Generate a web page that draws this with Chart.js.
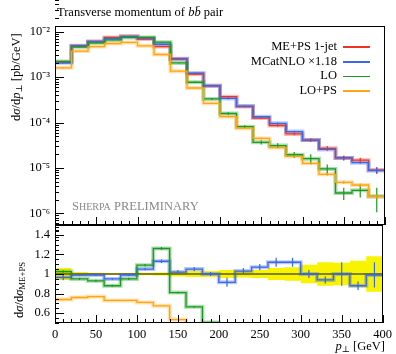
<!DOCTYPE html>
<html>
<head>
<meta charset="utf-8">
<script src="https://cdn.jsdelivr.net/npm/chart.js@4.4.1/dist/chart.umd.min.js"></script>
<style>
  body { margin: 0; background: #fff; width: 396px; height: 354px; position: relative; overflow: hidden;
         font-family: "Liberation Serif", "DejaVu Serif", serif; color: #000; }
  canvas { position: absolute; left: 0; }
  .txt { position: absolute; white-space: nowrap; }
  .rot { position: absolute; white-space: nowrap; transform-origin: left top; transform: rotate(-90deg); }
  .leg { position: absolute; right: 26px; font-size: 12.5px; line-height: 14.7px; text-align: right; }
  .leg span { display: inline-block; width: 27px; height: 1.6px; margin-left: 6px; vertical-align: middle; }
  sub { font-size: 70%; vertical-align: -2px; line-height: 0; }
</style>
</head>
<body>
<canvas id="mainChart" width="396" height="240" style="top:0"></canvas>
<canvas id="ratioChart" width="396" height="144" style="top:210px"></canvas>

<div class="txt" style="left:57px;top:5px;font-size:12.5px">Transverse momentum of <i>b</i><i>b&#772;</i> pair</div>

<div class="leg" style="top:39px">
  <div>ME+PS 1-jet<span style="background:#ee3322"></span></div>
  <div>MCatNLO ×1.18<span style="background:#3a66e8"></span></div>
  <div>LO<span style="background:#1a9a22"></span></div>
  <div>LO+PS<span style="background:#ffa514"></span></div>
</div>

<div class="txt" style="left:72px;top:199px;font-size:12.5px;color:#888">S<span style="font-size:80%">HERPA</span> PRELIMINARY</div>

<div class="rot" style="left:9px;top:121px;font-size:12.5px">d<i>σ</i>/d<i>p</i><sub>⊥</sub> [pb/GeV]</div>
<div class="rot" style="left:12px;top:318px;font-size:12.5px">d<i>σ</i>/d<i>σ</i><sub>ME+PS</sub></div>

<div class="txt" style="right:11px;top:339px;font-size:12.5px"><i>p</i><sub>⊥</sub> [GeV]</div>

<script>
// bin edges, 20 GeV wide
const edges = [0, 20, 40, 60, 80, 100, 120, 140, 160, 180, 200, 220, 240, 260, 280, 300, 320, 340, 360, 380, 400];

// main panel: dsigma/dpT [pb/GeV]
const mePs    = [2.15e-3, 4.9e-3, 6.1e-3, 7.5e-3, 7.9e-3, 6.9e-3, 4.7e-3, 2.5e-3, 1.17e-3, 6.45e-4, 3.7e-4, 2.24e-4, 1.25e-4, 8.6e-5, 5.6e-5, 4.1e-5, 2.7e-5, 1.66e-5, 1.48e-5, 8.9e-6];
const mcAtNlo = [2.07e-3, 4.85e-3, 6.05e-3, 7.1e-3, 7.8e-3, 7.25e-3, 5.3e-3, 2.55e-3, 1.23e-3, 6.45e-4, 3.4e-4, 2.3e-4, 1.34e-4, 9.6e-5, 6.3e-5, 4.1e-5, 2.55e-5, 1.66e-5, 1.3e-5, 8.8e-6];
const lo      = [2.2e-3, 4.65e-3, 5.7e-3, 6.6e-3, 7.5e-3, 7.5e-3, 5.9e-3, 2.05e-3, 7.7e-4, 3.3e-4, 1.58e-4, 8.1e-5, 3.65e-5, 3.1e-5, 1.95e-5, 1.6e-5, 9.5e-6, 2.8e-6, 3.2e-6, 2.35e-6];
const loPs    = [1.6e-3, 3.75e-3, 4.7e-3, 5.5e-3, 5.8e-3, 4.9e-3, 3.15e-3, 1.35e-3, 5.75e-4, 2.65e-4, 1.35e-4, 7.5e-5, 4.45e-5, 2.8e-5, 1.8e-5, 1.26e-5, 7.2e-6, 4.8e-6, 4.2e-6, 2.35e-6];

// relative uncertainties
const mePsErr    = [0.06, 0.02, 0.012, 0.01, 0.01, 0.012, 0.015, 0.025, 0.03, 0.03, 0.04, 0.035, 0.04, 0.06, 0.07, 0.095, 0.12, 0.115, 0.135, 0.18];
const mcAtNloErr = [0.03, 0.01, 0.01, 0.01, 0.01, 0.01, 0.015, 0.02, 0.02, 0.02, 0.05, 0.03, 0.03, 0.04, 0.04, 0.04, 0.04, 0.12, 0.05, 0.13];
const loErr      = [0.03, 0.02, 0.02, 0.02, 0.02, 0.02, 0.02, 0.03, 0.04, 0.05, 0.06, 0.08, 0.1, 0.12, 0.15, 0.25, 0.25, 0.3, 0.3, 0.55];
const loPsErr    = [0.03, 0.01, 0.01, 0.01, 0.01, 0.01, 0.015, 0.02, 0.03, 0.03, 0.04, 0.04, 0.05, 0.05, 0.06, 0.06, 0.07, 0.08, 0.08, 0.1];

// ratio panel: x / ME+PS
const ratioMcAtNlo = [0.965, 0.99, 0.99, 0.95, 0.99, 1.05, 1.13, 1.02, 1.05, 1.0, 0.915, 1.03, 1.07, 1.12, 1.12, 1.0, 0.94, 1.0, 0.88, 0.99];
const ratioLo      = [1.025, 0.95, 0.93, 0.88, 0.95, 1.09, 1.26, 0.81, 0.665, 0.505, 0.43, 0.36, 0.29, 0.36, 0.35, 0.39, 0.35, 0.17, 0.22, 0.26];
const ratioLoPs    = [0.74, 0.76, 0.77, 0.73, 0.73, 0.71, 0.675, 0.535, 0.49, 0.41, 0.36, 0.33, 0.36, 0.33, 0.32, 0.31, 0.27, 0.29, 0.28, 0.26];
const ratioMePs    = [1, 1, 1, 1, 1, 1, 1, 1, 1, 1, 1, 1, 1, 1, 1, 1, 1, 1, 1, 1];

// tick labels
const xTicks = [0, 50, 100, 150, 200, 250, 300, 350, 400];
const yMainTicks = [1e-6, 1e-5, 1e-4, 1e-3, 1e-2];
const yRatioTicks = [0.6, 0.8, 1, 1.2, 1.4];

const RED = "#ee3322", BLUE = "#3a66e8", GREEN = "#1a9a22", ORANGE = "#ffa514";
const FONT = { family: "Liberation Serif", size: 12.5 };

function steps(vals) {
    return edges.map((x, i) => ({ x: x, y: vals[Math.min(i, vals.length - 1)] }));
}
function fade(hex) {
    const n = parseInt(hex.slice(1), 16);
    return `rgba(${n >> 16}, ${(n >> 8) & 255}, ${n & 255}, 0.35)`;
}
// thin histogram line + soft wide shadow line
function histo(vals, color, errs, order) {
    return [
        { data: steps(vals), stepped: true, borderColor: color, borderWidth: 1.3, pointRadius: 0, fill: false, errs: errs, order: order },
        { data: steps(vals), stepped: true, borderColor: fade(color), borderWidth: 4, pointRadius: 0, fill: false, order: order + 10 }
    ];
}

const supDigits = { "-": "⁻", "1": "¹", "2": "²", "3": "³", "4": "⁴", "5": "⁵", "6": "⁶", "7": "⁷" };
function powLabel(v) {
    const e = Math.round(Math.log10(v)).toString();
    return "10" + e.split("").map(c => supDigits[c]).join("");
}

// error bars at bin centres
const errorBars = {
    id: "errorBars",
    afterDatasetsDraw(chart) {
        const { ctx, chartArea: a, scales } = chart;
        ctx.save();
        ctx.beginPath();
        ctx.rect(a.left, a.top, a.width, a.height);
        ctx.clip();
        chart.data.datasets.forEach(ds => {
            if (!ds.errs) return;
            ctx.strokeStyle = ds.borderColor;
            ctx.lineWidth = 1.2;
            ds.errs.forEach((e, i) => {
                const v = ds.data[i].y;
                const x = scales.x.getPixelForValue((edges[i] + edges[i + 1]) / 2);
                ctx.beginPath();
                ctx.moveTo(x, scales.y.getPixelForValue(v * (1 - e)));
                ctx.lineTo(x, scales.y.getPixelForValue(v * (1 + e)));
                ctx.stroke();
            });
        });
        ctx.restore();
    }
};

// frame with inward ticks
const frameTicks = {
    id: "frameTicks",
    afterDraw(chart, args, opts) {
        const { ctx, chartArea: a, scales } = chart;
        ctx.save();
        ctx.strokeStyle = "#000";
        ctx.lineWidth = 1;
        const seg = (x1, y1, x2, y2) => { ctx.beginPath(); ctx.moveTo(x1, y1); ctx.lineTo(x2, y2); ctx.stroke(); };
        for (let v = 0; v <= 400; v += 10) {
            const x = Math.round(scales.x.getPixelForValue(v)) + 0.5;
            seg(x, a.bottom, x, a.bottom - (v % 50 === 0 ? 8 : 4));
        }
        opts.minor.forEach(v => {
            const y = Math.round(scales.y.getPixelForValue(v)) + 0.5;
            seg(a.left, y, a.left + 4, y);
        });
        opts.major.forEach(v => {
            const y = Math.round(scales.y.getPixelForValue(v)) + 0.5;
            seg(a.left, y, a.left + 9, y);
        });
        ctx.strokeRect(Math.round(a.left) + 0.5, Math.round(a.top) + 0.5, Math.round(a.width) - 1, Math.round(a.height) - 1);
        ctx.restore();
    }
};

const logMinor = [];
for (let d = -7; d <= -2; d++) for (let m = 2; m <= 9; m++) logMinor.push(m * Math.pow(10, d));
const ratioMinor = [];
for (let k = 10; k <= 30; k++) ratioMinor.push(k * 0.05);

Chart.defaults.font.family = FONT.family;
Chart.defaults.color = "#000";

new Chart(document.getElementById("mainChart"), {
    type: "line",
    data: {
        datasets: [
            ...histo(mePs, RED, mePsErr, 3),
            ...histo(mcAtNlo, BLUE, mcAtNloErr, 2),
            ...histo(lo, GREEN, loErr, 1),
            ...histo(loPs, ORANGE, loPsErr, 0)
        ]
    },
    options: {
        responsive: false,
        animation: false,
        layout: { padding: { left: 0, top: 26, right: 11, bottom: 15 } },
        plugins: { legend: { display: false }, tooltip: { enabled: false },
                   frameTicks: { major: yMainTicks, minor: logMinor } },
        scales: {
            x: { type: "linear", min: 0, max: 400, display: false },
            y: {
                type: "logarithmic", min: 5.52e-7, max: 1.337e-2,
                afterBuildTicks: s => { s.ticks = yMainTicks.map(v => ({ value: v })); },
                afterFit: s => { s.width = 55; },
                ticks: { callback: v => powLabel(v), font: FONT, padding: 5 },
                grid: { display: false, drawTicks: false },
                border: { display: false }
            }
        }
    },
    plugins: [errorBars, frameTicks]
});

const bandErr = mePsErr;
new Chart(document.getElementById("ratioChart"), {
    type: "line",
    data: {
        datasets: [
            { data: steps(ratioMePs.map((r, i) => r - bandErr[i])), stepped: true, borderWidth: 0, pointRadius: 0, fill: false, order: 30 },
            { data: steps(ratioMePs.map((r, i) => r + bandErr[i])), stepped: true, borderWidth: 0, pointRadius: 0, fill: "-1", backgroundColor: "#f8f400", order: 30 },
            { data: steps(ratioMePs), stepped: true, borderColor: "#5e5c14", borderWidth: 1.6, pointRadius: 0, fill: false, order: 5 },
            ...histo(ratioMcAtNlo, BLUE, mcAtNloErr, 2),
            ...histo(ratioLo, GREEN, loErr.map(() => 0.012), 1),
            ...histo(ratioLoPs, ORANGE, null, 0)
        ]
    },
    options: {
        responsive: false,
        animation: false,
        layout: { padding: { left: 0, top: 15, right: 11, bottom: 0 } },
        plugins: { legend: { display: false }, tooltip: { enabled: false },
                   frameTicks: { major: yRatioTicks, minor: ratioMinor } },
        scales: {
            x: {
                type: "linear", min: 0, max: 400,
                afterBuildTicks: s => { s.ticks = xTicks.map(v => ({ value: v })); },
                afterFit: s => { s.height = 31; },
                ticks: { font: FONT, padding: 4, maxRotation: 0 },
                grid: { display: false, drawTicks: false },
                border: { display: false }
            },
            y: {
                type: "linear", min: 0.5, max: 1.5,
                afterBuildTicks: s => { s.ticks = yRatioTicks.map(v => ({ value: v })); },
                afterFit: s => { s.width = 55; },
                ticks: { callback: v => (v === 1 ? "1" : v.toFixed(1)), font: FONT, padding: 5 },
                grid: { display: false, drawTicks: false },
                border: { display: false }
            }
        }
    },
    plugins: [errorBars, frameTicks]
});
</script>
</body>
</html>
